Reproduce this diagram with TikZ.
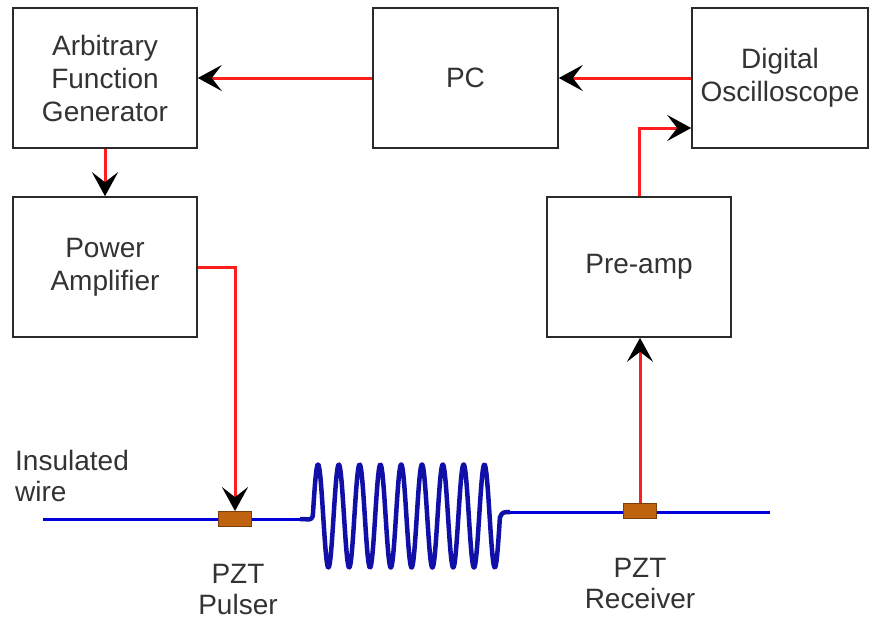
\documentclass[tikz,border=0pt]{standalone}
\usepackage{fontspec}
\setmainfont{Liberation Sans}
\usetikzlibrary{arrows.meta}
\definecolor{boxline}{HTML}{2A2A2A}
\definecolor{sigred}{HTML}{FF1E1E}
\definecolor{wireblue}{HTML}{0000DD}
\definecolor{waveblue}{HTML}{1010A8}
\definecolor{pztfill}{HTML}{C0630F}
\definecolor{pztline}{HTML}{7A3F08}
\definecolor{txt}{HTML}{333333}
\tikzset{
  unit/.style={draw=boxline, line width=1.6pt, fill=white, text=txt, align=center,
    font=\fontsize{28}{33}\selectfont, inner sep=0pt},
  sig/.style={draw=sigred, line width=3pt,
    -{Stealth[black, length=24pt, width=26pt, inset=10pt]}},
  pzt/.style={draw=pztline, line width=0.8pt, fill=pztfill, minimum width=33pt,
    minimum height=15pt, inner sep=0pt},
  lbl/.style={text=txt, align=center, font=\fontsize{28}{31}\selectfont, inner sep=0pt},
}
\begin{document}
\begin{tikzpicture}[x=1pt, y=-1pt]
\useasboundingbox (0,0) rectangle (870,622);
% boxes
\node[unit, minimum width=184pt, minimum height=140pt] (afg) at (105,78) {Arbitrary\\Function\\Generator};
\node[unit, minimum width=184pt, minimum height=140pt] (pa) at (105,267) {Power\\Amplifier};
\node[unit, minimum width=185pt, minimum height=140pt] (pc) at (465.5,78) {PC};
\node[unit, minimum width=176pt, minimum height=140pt] (osc) at (780,78) {Digital\\Oscilloscope};
\node[unit, minimum width=184pt, minimum height=140pt] (pre) at (639,267) {Pre-amp};
% wire
\draw[wireblue, line width=3pt] (43,519) -- (303,519);
\draw[wireblue, line width=3pt] (506,512) -- (770,512);
% wave burst
\draw[waveblue, line width=4.5pt, line join=round]
  (300,519) .. controls (309,519) and (311,521) .. (312.8,516)
  -- plot[domain=0:9, samples=450, smooth] ({312.8+20.8*\x},{516-51.5*sin(360*\x)})
  .. controls (502,512) and (504,512) .. (510,512);
% transducers
\node[pzt] (pul) at (235,519) {};
\node[pzt] (rec) at (640,511) {};
% connectors
\coordinate (b1) at (235,267);
\coordinate (b2) at (639,128);
\draw[sig] (pc.west) -- (afg.east);
\draw[sig] (osc.west |- pc.east) -- (pc.east);
\draw[sig] (afg.south) -- (pa.north);
\draw[sig] (pa.east) -- (b1) -- (pul.north);
\draw[sig] (rec.north) -- (rec.north |- pre.south);
\draw[sig] (pre.north) -- (b2) -- (b2 -| osc.west);
% labels
\node[lbl, align=left, anchor=west] (ins) at (15,476) {Insulated\\wire};
\node[lbl] (pl) at (238,589) {PZT\\Pulser};
\node[lbl] (rl) at (640,583) {PZT\\Receiver};
\end{tikzpicture}
\end{document}
